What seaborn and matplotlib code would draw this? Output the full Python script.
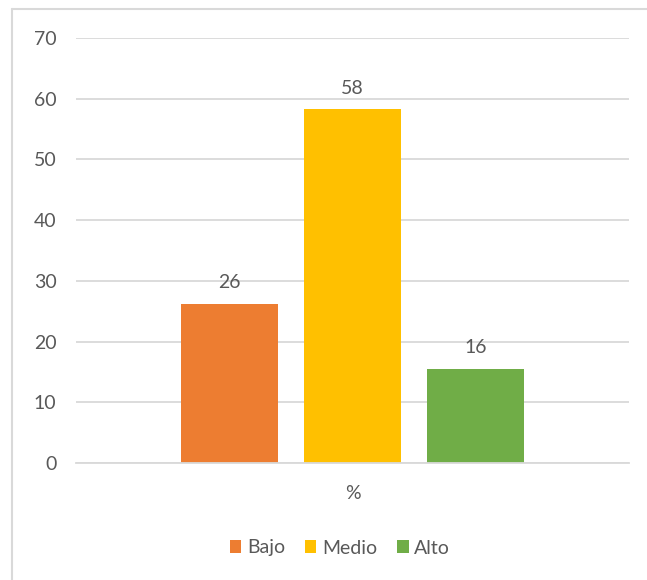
import matplotlib
matplotlib.use("Agg")
import matplotlib.pyplot as plt
import seaborn as sns
import pandas as pd
from matplotlib.lines import Line2D
from matplotlib.patches import Patch

categories = ["%"]
levels = ["Bajo", "Medio", "Alto"]
values = [26.2, 58.3, 15.5]
colors = ["#ED7D31", "#FFC000", "#70AD47"]
yticks = [0, 10, 20, 30, 40, 50, 60, 70]

df = pd.DataFrame({"cat": categories * len(levels), "nivel": levels, "valor": values})

sns.set_theme(style="white")
plt.rcParams["font.family"] = ["Lato", "DejaVu Sans"]
text_color = "#595959"
grid_color = "#D9D9D9"
fs = 14

W, H = 647, 580
fig = plt.figure(figsize=(W / 100, H / 100), dpi=100)
ax = fig.add_axes([76 / W, 1 - 463 / H, (629 - 76) / W, (463 - 38) / H])

sns.barplot(data=df, x="cat", y="valor", hue="nivel", hue_order=levels,
            palette=colors, width=0.667, gap=0.21, ax=ax, legend=False,
            saturation=1, linewidth=0)

for cont in ax.containers:
    ax.bar_label(cont, fmt="%.0f", padding=9, fontsize=fs, color=text_color)

ax.set_ylim(0, 70)
ax.set_xlim(-0.5, 0.5)
ax.set_yticks(yticks)
ax.set_yticklabels([str(t) for t in yticks])
ax.yaxis.grid(True, color=grid_color, linewidth=1.3)
ax.set_axisbelow(True)
for s in ["top", "right", "left"]:
    ax.spines[s].set_visible(False)
ax.spines["bottom"].set_color(grid_color)
ax.spines["bottom"].set_linewidth(1.3)
ax.tick_params(axis="y", length=0, pad=14, labelsize=fs, labelcolor=text_color)
ax.tick_params(axis="x", length=0, pad=16, labelsize=fs, labelcolor=text_color)
ax.set_xlabel("")
ax.set_ylabel("")

handles = [Patch(facecolor=c, edgecolor="none", label=l) for c, l in zip(colors, levels)]
fig.legend(handles=handles, loc="center", bbox_to_anchor=(340 / W, 1 - 548 / H),
           ncol=3, frameon=False, fontsize=fs, handlelength=0.6, handleheight=0.6,
           handletextpad=0.3, columnspacing=1.0, labelcolor=text_color)

# chart border
fig.add_artist(Line2D([12 / W, 1], [1 - 8.5 / H, 1 - 8.5 / H], transform=fig.transFigure,
                      color=grid_color, linewidth=1.5))
fig.add_artist(Line2D([12 / W, 12 / W], [0, 1 - 8.5 / H], transform=fig.transFigure,
                      color=grid_color, linewidth=1.5))

fig.savefig("out.png", dpi=100)
